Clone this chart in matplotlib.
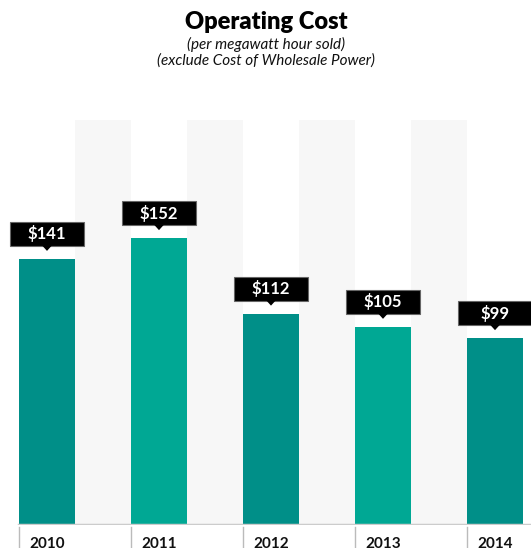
import matplotlib
matplotlib.use("Agg")
import matplotlib.pyplot as plt
from matplotlib.patches import Rectangle, Polygon

years = ["2010", "2011", "2012", "2013", "2014"]
costs = [141, 152, 112, 105, 99]
labels = ["$141", "$152", "$112", "$105", "$99"]
colors = ["#008f88", "#00a894", "#008f88", "#00a894", "#008f88"]

W, H = 531, 548
fig = plt.figure(figsize=(W / 100, H / 100), dpi=100)
plt.rcParams['font.family'] = ['Lato', 'DejaVu Sans']

ax_bottom_px = 23
ax_top_px = 428
ax = fig.add_axes([0, ax_bottom_px / H, 1, (ax_top_px - ax_bottom_px) / H])
ymax = 214.6
ax.set_ylim(0, ymax)
x0 = -0.4196
x1 = 4.3214
ax.set_xlim(x0, x1)
ax.axis('off')

pxx = (x1 - x0) / W              # data units per pixel in x
pxy = ymax / (ax_top_px - ax_bottom_px)  # data units per pixel in y

xs = list(range(len(years)))
# background bands between bars
for i in xs[:-1]:
    ax.axvspan(i + 0.25, i + 0.75, color="#f7f7f7", zorder=0, lw=0)

ax.bar(xs, costs, width=0.5, color=colors, zorder=2)

# baseline
ax.axhline(0, color="#cccccc", lw=2.5, zorder=3, xmin=(-0.25 - x0) / (x1 - x0))

# separators and year labels
for i, y in zip(xs, years):
    ax.plot([i - 0.25, i - 0.25], [-1.5 * pxy, -30 * pxy], color="#bbbbbb", lw=1,
            clip_on=False, zorder=3)
    ax.text(i - 0.25 + 10 * pxx, -12 * pxy, y, ha='left', va='top', fontsize=11,
            fontweight='bold', color='#111111', clip_on=False)

# value callouts
bw, bh = 74 * pxx, 24 * pxy
for i, v, lab in zip(xs, costs, labels):
    bottom = v + 13 * pxy
    ax.add_patch(Rectangle((i - bw / 2, bottom), bw, bh, facecolor='black',
                           edgecolor='#666666', lw=0.8, zorder=4, clip_on=False))
    ax.add_patch(Polygon([[i - 5 * pxx, bottom + 0.5 * pxy], [i + 5 * pxx, bottom + 0.5 * pxy],
                          [i, bottom - 5 * pxy]], closed=True, facecolor='black',
                         edgecolor='none', zorder=5, clip_on=False))
    ax.text(i, bottom + bh / 2, lab, ha='center', va='center', color='white',
            fontsize=12, fontweight='bold', zorder=6)

fig.text(266 / W, 1 - 22 / H, "Operating Cost", ha='center', va='center',
         fontsize=17, fontweight='heavy', color='black')
fig.text(266 / W, 1 - 44 / H, "(per megawatt hour sold)", ha='center', va='center',
         fontsize=11, style='italic', color='#111111')
fig.text(266 / W, 1 - 61 / H, "(exclude Cost of Wholesale Power)", ha='center', va='center',
         fontsize=11, style='italic', color='#111111')

fig.savefig("out.png", dpi=100)
